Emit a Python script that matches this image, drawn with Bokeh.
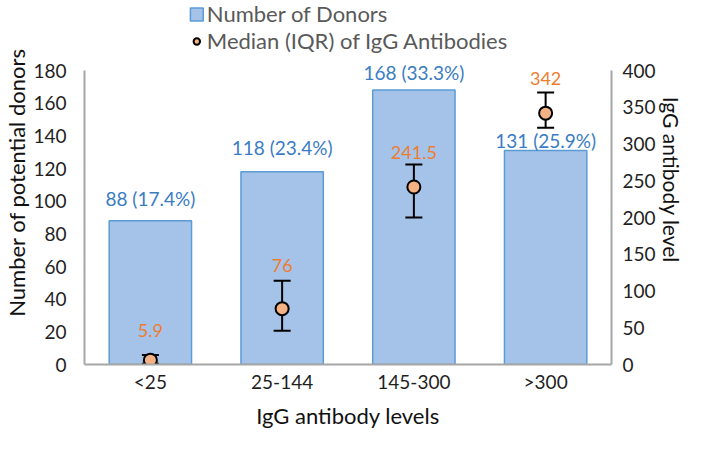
from bokeh.plotting import figure
from bokeh.models import Range1d, LinearAxis, Legend, LegendItem, ColumnDataSource
from bokeh.core.properties import value
from bokeh.embed import file_html
from bokeh.resources import INLINE

categories = ["<25", "25-144", "145-300", ">300"]
donors = [88, 118, 168, 131]
donor_labels = ["88 (17.4%)", "118 (23.4%)", "168 (33.3%)", "131 (25.9%)"]
median_igg = [5.9, 76, 241.5, 342]
iqr_low = [1, 46, 200, 322]
iqr_high = [13, 114, 272, 370]
median_labels = ["5.9", "76", "241.5", "342"]

LEFT_MAX = 180
RIGHT_MAX = 400
LEFT_TICKS = list(range(0, 181, 20))
RIGHT_TICKS = list(range(0, 401, 50))

FONT = "Lato"
BAR_FILL = "#a5c3e9"
BAR_LINE = "#5b9bd5"
LABEL_BLUE = "#3a7cc4"
ORANGE = "#ed7d31"
AXIS_GREY = "#a6a6a6"

W, H = 693, 437
BORDER_L, BORDER_R, BORDER_B = 77, 82, 73
FRAME_H = H - BORDER_B          # frame reaches the top of the canvas
AXIS_H = 294                    # pixel height of the 0..max axis span
headroom = FRAME_H / AXIS_H

p = figure(x_range=categories, y_range=Range1d(0, LEFT_MAX * headroom), width=W, height=H,
           output_backend="svg", toolbar_location=None,
           min_border_left=BORDER_L, min_border_right=BORDER_R,
           min_border_top=0, min_border_bottom=BORDER_B)
p.extra_y_ranges = {"igg": Range1d(0, RIGHT_MAX * headroom)}
p.outline_line_color = None
p.xgrid.visible = False
p.ygrid.visible = False
p.x_range.range_padding = 0

bar_src = ColumnDataSource(dict(x=categories, top=donors, label=donor_labels,
                                off=[-22, -24, -18, -10]))
med_src = ColumnDataSource(dict(x=categories, y=median_igg, lo=iqr_low, hi=iqr_high,
                                label=median_labels, off=[-30, -43, -34, -35]))

bars = p.vbar(x="x", top="top", width=0.625, source=bar_src,
              fill_color=BAR_FILL, line_color=BAR_LINE, line_width=1.5)
p.text(x="x", y="top", text="label", y_offset="off", source=bar_src,
       text_align="center", text_baseline="middle", text_color=LABEL_BLUE,
       text_font=value(FONT), text_font_size="19px")

p.segment(x0="x", y0="lo", x1="x", y1="hi", source=med_src, y_range_name="igg",
          line_color="black", line_width=2)
p.scatter(x="x", y="hi", source=med_src, y_range_name="igg", marker="dash",
          size=17, line_color="black", line_width=2)
p.scatter(x="x", y="lo", source=med_src, y_range_name="igg", marker="dash",
          size=17, line_color="black", line_width=2)
pts = p.scatter(x="x", y="y", source=med_src, y_range_name="igg", marker="circle",
                size=13, fill_color="#f4b183", line_color="black", line_width=2)
p.text(x="x", y="y", text="label", y_offset="off", source=med_src, y_range_name="igg",
       text_align="center", text_baseline="middle", text_color=ORANGE,
       text_font=value(FONT), text_font_size="18px")

def style_axis(ax):
    ax.axis_line_color = AXIS_GREY
    ax.axis_line_width = 2
    ax.major_tick_line_color = None
    ax.minor_tick_line_color = None
    ax.major_tick_out = 0
    ax.major_tick_in = 0
    ax.minor_tick_out = 0
    ax.minor_tick_in = 0
    ax.major_label_text_font = FONT
    ax.major_label_text_font_size = "19px"
    ax.major_label_text_color = "#1f1f1f"
    ax.major_label_text_line_height = 1.0
    ax.axis_label_text_font = FONT
    ax.axis_label_text_font_size = "22px"
    ax.axis_label_text_font_style = "normal"
    ax.axis_label_text_color = "#111111"
    ax.axis_label_text_line_height = 1.0

p.yaxis.ticker = LEFT_TICKS
p.yaxis.bounds = (0, LEFT_MAX)
p.yaxis.axis_label = "Number of potential donors"
p.yaxis.major_label_standoff = 18
p.yaxis.axis_label_standoff = 0
style_axis(p.yaxis[0])

right = LinearAxis(y_range_name="igg", axis_label="IgG  antibody level")
right.ticker = RIGHT_TICKS
right.bounds = (0, RIGHT_MAX)
right.major_label_standoff = 11
right.axis_label_standoff = 0
style_axis(right)
right.axis_label_text_font_size = "21px"
p.add_layout(right, "right")

p.xaxis.axis_label = "IgG antibody levels"
p.xaxis.major_label_standoff = 5
p.xaxis.axis_label_standoff = 6
style_axis(p.xaxis[0])

legend = Legend(items=[LegendItem(label="Number of Donors", renderers=[bars]),
                       LegendItem(label="Median (IQR) of IgG Antibodies", renderers=[pts])],
                location="top_center", orientation="vertical")
legend.label_text_font = FONT
legend.label_text_font_size = "22px"
legend.label_text_line_height = 1.0
legend.label_text_color = "#595959"
legend.label_height = 18
legend.border_line_color = None
legend.background_fill_alpha = 0
legend.glyph_width = 16
legend.glyph_height = 16
legend.spacing = 0
legend.padding = 0
legend.margin = 0
legend.label_standoff = 3
p.add_layout(legend, "center")

open("out.html", "w").write(file_html(p, INLINE))
